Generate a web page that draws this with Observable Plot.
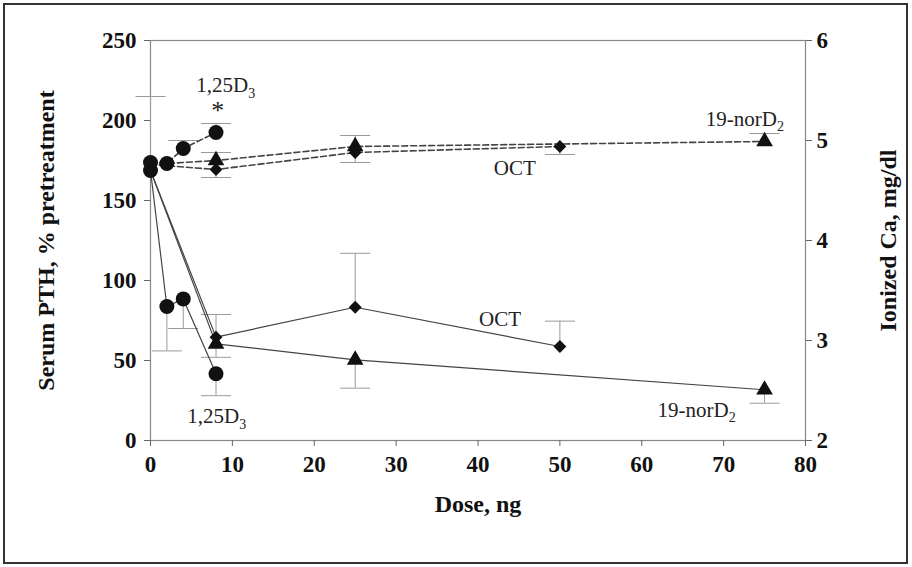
<!DOCTYPE html>
<html><head><meta charset="utf-8">
<script src="https://cdn.jsdelivr.net/npm/d3@7"></script>
<script src="https://cdn.jsdelivr.net/npm/@observablehq/plot@0.6"></script>
<style>
html,body{margin:0;padding:0;background:#fff;}
#wrap{position:relative;width:912px;height:567px;overflow:hidden;}
#border{position:absolute;left:3px;top:3px;width:901px;height:557px;border:2px solid #333;pointer-events:none;}
</style></head><body><div id="wrap"><div id="border"></div></div>
<script>
// ---- data ----
const seriesNames = ["1,25D3", "OCT", "19-norD2"];
const seriesSymbols = ["circle", "diamond2", "triangle"];
const doses125 = [0, 2, 4, 8];
const dosesOCT = [0, 8, 25, 50];
const dosesNor = [0, 8, 25, 75];
// Serum PTH, % pretreatment (left axis, solid lines)
const pth125 = [168.75, 83.75, 88.5, 41.7];
const pthOCT = [168.75, 64.6, 83.3, 58.75];
const pthNor = [168.75, 60.4, 50.4, 31.7];
const pthErr125 = [215, 56, 70, 28];
const pthErrOCT = [null, 78.75, 117, 74.6];
const pthErrNor = [null, 52, 32.7, 23.3];
// Ionized Ca, mg/dl (right axis, dashed lines)
const ca125 = [4.78, 4.77, 4.92, 5.08];
const caOCT = [4.76, 4.71, 4.88, 4.94];
const caNor = [4.76, 4.80, 4.94, 4.99];
const caErr125 = [null, null, 5.0, 5.17];
const caErrOCT = [null, 4.63, 4.78, 4.86];
const caErrNor = [null, 4.88, 5.05, 5.07];
// axes
const xTicks = [0, 10, 20, 30, 40, 50, 60, 70, 80];
const pthTicks = [0, 50, 100, 150, 200, 250];
const caTicks = [2, 3, 4, 5, 6];
// annotations
const labelText = ["1,25D_3", "*", "OCT", "OCT", "19-norD_2", "19-norD_2", "1,25D_3"];
const labelX = [9.2, 8.2, 44.5, 42.7, 72.6, 66.7, 8.1];
const labelY = [222, 206, 170, 76, 201, 19, 15];

// ---- build tables ----
const caMin = caTicks[0], caMax = caTicks[caTicks.length - 1];
const pthMax = pthTicks[pthTicks.length - 1];
const toLeft = c => (c - caMin) / (caMax - caMin) * pthMax;
const fromLeft = v => v / pthMax * (caMax - caMin) + caMin;

const doses = [doses125, dosesOCT, dosesNor];
const pth = [pth125, pthOCT, pthNor];
const pthErr = [pthErr125, pthErrOCT, pthErrNor];
const ca = [ca125, caOCT, caNor];
const caErr = [caErr125, caErrOCT, caErrNor];

const rows = [];
seriesNames.forEach((s, k) => {
  doses[k].forEach((d, i) => {
    rows.push({series: s, symbol: seriesSymbols[k], measure: "PTH", dose: d,
      y: pth[k][i], err: pthErr[k][i]});
    rows.push({series: s, symbol: seriesSymbols[k], measure: "Ca", dose: d,
      y: toLeft(ca[k][i]), err: caErr[k][i] == null ? null : toLeft(caErr[k][i])});
  });
});
const errRows = rows.filter(d => d.err != null);
const markRows = rows.filter(d => d.dose !== 0 || d.series === seriesNames[0]);
const labels = labelText.map((t, i) => ({t, x: labelX[i], y: labelY[i]}));

const capSymbol = {draw(ctx) { ctx.moveTo(-15, 0); ctx.lineTo(15, 0); }};
const font = "'Liberation Serif', 'Times New Roman', serif";

const chart = Plot.plot({
  width: 912, height: 567,
  marginLeft: 150, marginRight: 107, marginTop: 40, marginBottom: 127,
  style: {fontFamily: font, background: "transparent", color: "#111"},
  x: {domain: [0, 80]},
  y: {domain: [0, 250]},
  marks: [
    Plot.frame({stroke: "#888", strokeWidth: 1.2}),
    Plot.axisX(xTicks, {tickSize: 6, tickPadding: 9, fontSize: 23, fontWeight: "bold", stroke: "#666",
      label: "Dose, ng", labelAnchor: "center", labelOffset: 71, labelArrow: "none"}),
    Plot.axisY(pthTicks, {anchor: "left", tickSize: 6, tickPadding: 8, fontSize: 23, fontWeight: "bold", stroke: "#666",
      label: "Serum PTH, % pretreatment", labelAnchor: "center", labelOffset: 114, labelArrow: "none"}),
    Plot.axisY(caTicks.map(toLeft), {anchor: "right", tickSize: 6, tickPadding: 5, fontSize: 23, fontWeight: "bold", stroke: "#666",
      tickFormat: v => String(Math.round(fromLeft(v))),
      label: "Ionized Ca, mg/dl", labelAnchor: "center", labelOffset: 90, labelArrow: "none"}),
    Plot.ruleX(errRows, {x: "dose", y1: "y", y2: "err", stroke: "#9a9a9a", strokeWidth: 1}),
    Plot.dot(errRows, {x: "dose", y: "err", symbol: capSymbol, stroke: "#9a9a9a", fill: "none", strokeWidth: 1}),
    Plot.line(rows.filter(d => d.measure === "PTH"), {x: "dose", y: "y", z: "series", stroke: "#444", strokeWidth: 1.2}),
    Plot.line(rows.filter(d => d.measure === "Ca"), {x: "dose", y: "y", z: "series", stroke: "#444", strokeWidth: 1.6, strokeDasharray: "6,3"}),
    Plot.dot(markRows.filter(d => d.symbol === "triangle"), {x: "dose", y: "y", symbol: "triangle", r: 6.2, fill: "#111"}),
    Plot.dot(markRows.filter(d => d.symbol === "diamond2"), {x: "dose", y: "y", symbol: "diamond2", r: 5.8, fill: "#111"}),
    Plot.dot(markRows.filter(d => d.symbol === "circle"), {x: "dose", y: "y", symbol: "circle", r: 7.5, fill: "#111"}),
    Plot.text(labels.filter(d => d.t !== "*"), {x: "x", y: "y", text: "t", fontSize: 21, fill: "#222"}),
    Plot.text(labels.filter(d => d.t === "*"), {x: "x", y: "y", text: "t", fontSize: 26, fill: "#222"})
  ]
});

// subscripts
d3.select(chart).selectAll("text").each(function() {
  const s = this.textContent;
  if (s.includes("_")) {
    const [main, sub] = s.split("_");
    const el = d3.select(this);
    el.text(null);
    el.append("tspan").text(main);
    el.append("tspan").attr("dy", "0.4em").attr("font-size", "14px").text(sub);
  }
});
// axis titles a bit larger than tick labels
d3.select(chart).selectAll("text").filter(function() {
  return ["Dose, ng", "Serum PTH, % pretreatment", "Ionized Ca, mg/dl"].includes(this.textContent);
}).attr("font-size", "24px");
document.getElementById("wrap").prepend(chart);
</script>
</body></html>
